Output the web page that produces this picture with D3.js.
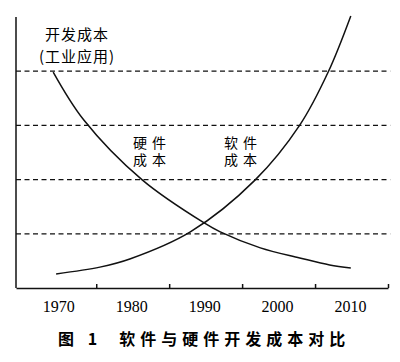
<!DOCTYPE html>
<html>
<head>
<meta charset="utf-8">
<script src="https://cdn.jsdelivr.net/npm/d3@7/dist/d3.min.js"></script>
<style>
    body { margin: 0; background: #fff; }
    .tick-label { font-family: "Liberation Serif", "DejaVu Serif", serif; font-size: 16px; }
    .cn { font-family: "Noto Sans CJK SC", sans-serif; font-size: 15px; }
</style>
</head>
<body>
<div id="chart"></div>
<script>
// 年份刻度标签
var yearLabels = [1970, 1980, 1990, 2000, 2010];
// 虚线位置 (相对成本)
var gridValues = [20, 40, 60, 80];
// 硬件成本 (下降)
var hardYears = [1969.1, 1973.3, 1981.3, 1989.8, 1992.0, 1997.5, 2002.9, 2007.0, 2009.9];
var hardValues = [79.7, 62.0, 39.9, 24.0, 20.7, 14.8, 11.1, 8.5, 7.4];
// 软件成本 (上升)
var softYears = [1969.5, 1975.5, 1979.6, 1987.9, 1996.8, 2002.9, 2006.8, 2009.9];
var softValues = [5.2, 7.7, 10.7, 20.7, 39.9, 60.1, 79.7, 100.4];

var width = 400, height = 362;

var svg = d3.select('#chart')
    .append('svg')
    .attr('width', width)
    .attr('height', height);

// x 轴: 刻度在两个年份之间
var x = d3.scaleLinear()
    .domain([1964, 2015])
    .range([16, 388]);
var y = d3.scaleLinear()
    .domain([0, 100])
    .range([288, 17]);

// 虚线
svg.selectAll('.grid')
    .data(gridValues)
    .enter().append('line')
    .attr('class', 'grid')
    .attr('x1', x(1964)).attr('x2', x(2015.3))
    .attr('y1', function(d) { return y(d); })
    .attr('y2', function(d) { return y(d); })
    .attr('stroke', '#111')
    .attr('stroke-width', 1.3)
    .attr('stroke-dasharray', '5,3.5');

// x 轴, 刻度朝上
var xAxis = d3.axisBottom(x)
    .tickValues(yearLabels.map(function(d) { return d + 5; }))
    .tickSize(-4)
    .tickSizeOuter(0)
    .tickFormat('');
var gx = svg.append('g')
    .attr('transform', 'translate(0,' + y(0) + ')')
    .call(xAxis);
gx.selectAll('path, line').attr('stroke', '#111').attr('stroke-width', 1.5);

svg.selectAll('.tick-label')
    .data(yearLabels)
    .enter().append('text')
    .attr('class', 'tick-label')
    .attr('x', function(d) { return x(d) - 1; })
    .attr('y', 312)
    .attr('text-anchor', 'middle')
    .text(function(d) { return d; });

// y 轴
svg.append('line')
    .attr('x1', x(1964)).attr('x2', x(1964))
    .attr('y1', y(100)).attr('y2', y(0))
    .attr('stroke', '#111')
    .attr('stroke-width', 1.5);

var line = d3.line()
    .curve(d3.curveCatmullRom.alpha(0.5))
    .x(function(d) { return x(d[0]); })
    .y(function(d) { return y(d[1]); });

svg.append('path')
    .attr('d', line(d3.zip(hardYears, hardValues)))
    .attr('fill', 'none')
    .attr('stroke', '#111')
    .attr('stroke-width', 1.5);
svg.append('path')
    .attr('d', line(d3.zip(softYears, softValues)))
    .attr('fill', 'none')
    .attr('stroke', '#111')
    .attr('stroke-width', 1.5);

// 文字标注 (多行用 tspan)
function label(lines, cx, cy, lineH, spacing, size) {
    var t = svg.append('text')
        .attr('class', 'cn')
        .attr('x', cx).attr('y', cy)
        .attr('text-anchor', 'middle')
        .attr('letter-spacing', spacing || 0)
        .style('font-size', size ? size + 'px' : null);
    lines.forEach(function(s, i) {
        t.append('tspan')
            .attr('x', cx)
            .attr('dy', i === 0 ? 0 : lineH)
            .text(s);
    });
}
label(['开发成本', '(工业应用)'], 77, 40, 22, 1);
label(['硬件', '成本'], 152, 148, 17, 5, 14);
label(['软件', '成本'], 243, 148, 17, 5, 14);

svg.append('text')
    .attr('class', 'cn')
    .attr('x', 58).attr('y', 345)
    .attr('font-weight', 'bold')
    .attr('letter-spacing', 5)
    .style('font-size', '16px')
    .style('white-space', 'pre')
    .text('图 1  软件与硬件开发成本对比');
</script>
</body>
</html>
